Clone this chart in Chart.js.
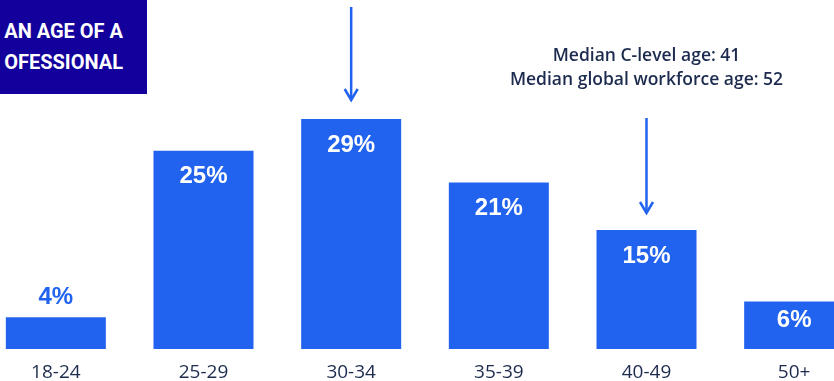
<!DOCTYPE html>
<html>
<head>
<meta charset="utf-8">
<script src="https://cdn.jsdelivr.net/npm/chart.js@4.4.1/dist/chart.umd.min.js"></script>
<style>
  html, body { margin: 0; padding: 0; background: #ffffff; }
  body { width: 834px; height: 381px; overflow: hidden; position: relative; }
  #wrap { position: absolute; left: -18px; top: 0; width: 886px; height: 396px; }
  #banner {
    position: absolute; left: 0; top: 0; width: 147px; height: 94px;
    background: #13009c; color: #ffffff; overflow: hidden;
    font-family: Roboto, "Liberation Sans", sans-serif; font-weight: 700; font-size: 20px;
  }
  #banner div { position: absolute; right: 24px; white-space: nowrap; line-height: 20px; }
  #banner .l1 { top: 21px; }
  #banner .l2 { top: 52px; }
</style>
</head>
<body>
<div id="wrap"><canvas id="c"></canvas></div>
<div id="banner"><div class="l1">AN AGE OF A</div><div class="l2">OFESSIONAL</div></div>
<script>
// Age brackets and share of professionals in each bracket (%)
const ageGroups = ["18-24", "25-29", "30-34", "35-39", "40-49", "50+"];
const shares = [4, 25, 29, 21, 15, 6];
const noteLines = ["Median C-level age: 41", "Median global workforce age: 52"];
const arrowGroups = ["30-34", "40-49"];

const BLUE = "#2162ee";
const NAVY = "#1d2b4f";

const overlay = {
  id: "overlay",
  afterDatasetsDraw(chart) {
    const ctx = chart.ctx;
    const xs = chart.scales.x;
    const meta = chart.getDatasetMeta(0);
    ctx.save();
    // value labels
    ctx.font = "bold 24px 'Liberation Sans', Arial, sans-serif";
    ctx.textAlign = "center";
    ctx.textBaseline = "middle";
    meta.data.forEach((bar, i) => {
      const h = bar.base - bar.y;
      const txt = shares[i] + "%";
      if (h < 40) {
        ctx.fillStyle = BLUE;
        ctx.fillText(txt, bar.x, bar.y - 20);
      } else {
        ctx.fillStyle = "#ffffff";
        ctx.fillText(txt, bar.x, bar.y + Math.min(26, h * 0.4));
      }
    });
    // arrows
    const drawArrow = (x, y0, y1) => {
      ctx.strokeStyle = BLUE;
      ctx.lineWidth = 2.5;
      ctx.lineCap = "butt";
      ctx.beginPath();
      ctx.moveTo(x, y0);
      ctx.lineTo(x, y1);
      ctx.stroke();
      ctx.beginPath();
      ctx.moveTo(x - 6.5, y1 - 11);
      ctx.lineTo(x, y1);
      ctx.lineTo(x + 6.5, y1 - 11);
      ctx.stroke();
    };
    const xa = xs.getPixelForValue(ageGroups.indexOf(arrowGroups[0]));
    const xb = xs.getPixelForValue(ageGroups.indexOf(arrowGroups[1]));
    drawArrow(xa, 7, 100);
    drawArrow(xb, 118, 213);
    // note text
    ctx.fillStyle = NAVY;
    ctx.font = "600 17.5px 'Open Sans', sans-serif";
    ctx.fillText(noteLines[0], xb, 56);
    ctx.fillText(noteLines[1], xb, 80);
    ctx.restore();
  }
};

new Chart(document.getElementById("c"), {
  type: "bar",
  data: {
    labels: ageGroups,
    datasets: [{
      data: shares,
      backgroundColor: BLUE,
      borderWidth: 0,
      barPercentage: 100 / (886 / 6),
      categoryPercentage: 1
    }]
  },
  options: {
    responsive: true,
    maintainAspectRatio: false,
    animation: false,
    layout: { padding: 0 },
    plugins: { legend: { display: false }, tooltip: { enabled: false } },
    scales: {
      x: {
        grid: { display: false, drawTicks: false },
        border: { display: false },
        ticks: {
          color: NAVY,
          padding: 14,
          font: { family: "'Open Sans', sans-serif", size: 19, lineHeight: 1.0 }
        }
      },
      y: { display: false, min: 0, max: 44 }
    }
  },
  plugins: [overlay]
});
</script>
</body>
</html>
